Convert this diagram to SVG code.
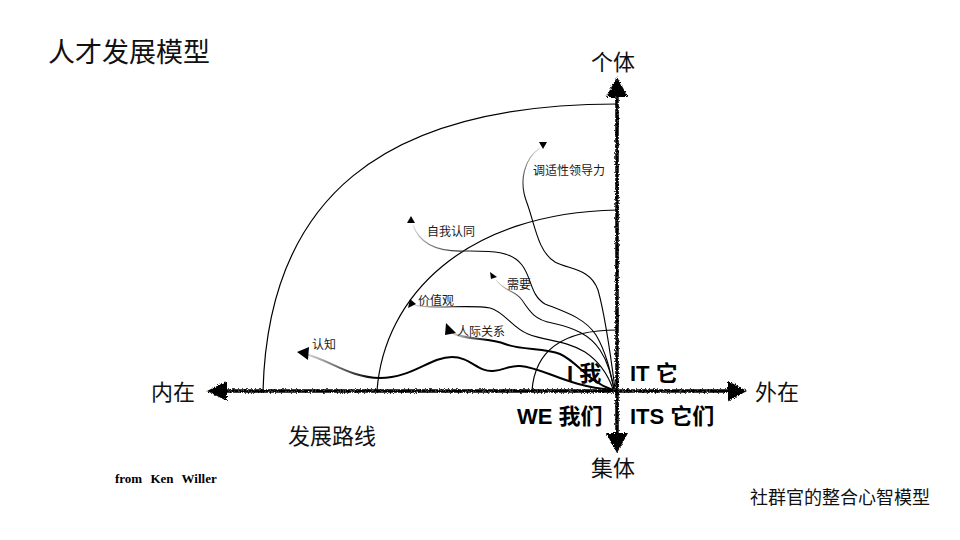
<svg xmlns="http://www.w3.org/2000/svg" width="960" height="540" viewBox="0 0 960 540">
<style>
.t{font-family:"Noto Sans CJK SC","Noto Sans",sans-serif;fill:#111}
.b{font-family:"Liberation Sans","Noto Sans CJK SC",sans-serif;font-weight:bold;fill:#000}
.s{font-family:"Noto Sans CJK SC",sans-serif;font-size:12px;fill:#1a1a1a}
.arc{fill:none;stroke:#000;stroke-width:1.2}
.w1{fill:none;stroke-width:1.1}
.w2{fill:none;stroke-width:2}
.ah{fill:#000}
</style>
<defs>
<linearGradient id="gH" x1="0" y1="0" x2="1" y2="0">
<stop offset="0" stop-color="#e0e0e0"/><stop offset="0.08" stop-color="#888"/><stop offset="0.22" stop-color="#000"/><stop offset="1" stop-color="#000"/>
</linearGradient>
<linearGradient id="gD" x1="0" y1="0" x2="1" y2="1">
<stop offset="0" stop-color="#e0e0e0"/><stop offset="0.1" stop-color="#888"/><stop offset="0.25" stop-color="#000"/><stop offset="1" stop-color="#000"/>
</linearGradient>
<linearGradient id="gV" x1="0" y1="0" x2="0" y2="1">
<stop offset="0" stop-color="#e0e0e0"/><stop offset="0.07" stop-color="#888"/><stop offset="0.2" stop-color="#000"/><stop offset="1" stop-color="#000"/>
</linearGradient>
<filter id="rough" x="-5%" y="-5%" width="110%" height="110%">
<feTurbulence type="fractalNoise" baseFrequency="1.3" numOctaves="2" result="n"/>
<feDisplacementMap in="SourceGraphic" in2="n" scale="4" xChannelSelector="R" yChannelSelector="G"/>
</filter>
</defs>
<rect width="960" height="540" fill="#fff"/>

<text class="t" x="48" y="62" font-size="27">人才发展模型</text>

<g id="arcs">
<path class="arc" d="M263,391 C268,200 380,104 617,104"/>
<path class="arc" d="M377,391 C384,296 465,213 617,210"/>
<path class="arc" d="M532,391 C535,345 570,330 617,330"/>
</g>

<g id="connectors">
<path class="w2" stroke="url(#gH)" d="M305,354 C330,360 350,378 380,378 C412,378 430,357 452,357 C470,357 478,372 493,371 C505,370 510,365 520,366 C545,368 565,386 613,390"/>
<path class="w2" stroke="url(#gH)" d="M452,333 C465,340 490,338 505,344 C520,350 545,348 560,354 C578,362 588,382 613,390"/>
<path class="w1" stroke="url(#gH)" d="M414,305 C430,310 470,304 490,308 C505,312 512,328 528,334 C545,341 565,340 585,352 C600,362 608,375 613,389"/>
<path class="w1" stroke="url(#gD)" d="M496,280 C505,292 515,290 522,300 C530,312 535,320 552,323 C575,328 590,335 600,350 C608,362 611,375 614,389"/>
<path class="w1" stroke="url(#gD)" d="M413,225 C420,245 440,252 465,251 C490,251 510,250 522,265 C532,278 530,295 545,304 C565,312 585,318 596,335 C606,352 610,370 614,389"/>
<path class="w1" stroke="url(#gV)" d="M540,148 C525,158 518,180 527,203 C535,225 538,252 555,262 C570,270 590,268 598,290 C605,315 610,350 615,389"/>
<polygon class="ah" points="297,352 309,347 308,360"/>
<polygon class="ah" points="446,323 456,333 445,335"/>
<polygon class="ah" points="408,308 410,299 416,304"/>
<polygon class="ah" points="490,272 497,277 491,279"/>
<polygon class="ah" points="411,216 415,223 407,223"/>
<polygon class="ah" points="539,142 547,142 543,149"/>
</g>

<g id="axes" filter="url(#rough)">
<line x1="222" y1="391" x2="733" y2="391" stroke="#000" stroke-width="3.5"/>
<line x1="617" y1="92" x2="617" y2="438" stroke="#000" stroke-width="3.5"/>
<polygon class="ah" points="207,391 227,381 227,401"/>
<polygon class="ah" points="747,391 728,381 728,401"/>
<polygon class="ah" points="617,77 606,97 628,97"/>
<polygon class="ah" points="617,453 606,433 628,433"/>
</g>

<g id="labels">
<text class="t" x="613" y="70" font-size="22" text-anchor="middle">个体</text>
<text class="t" x="613" y="476" font-size="22" text-anchor="middle">集体</text>
<text class="t" x="151" y="400" font-size="22">内在</text>
<text class="t" x="755" y="400" font-size="22">外在</text>
<text class="t" x="288" y="444" font-size="22">发展路线</text>
</g>

<g id="quadrants">
<text class="b" x="567" y="381" font-size="22">I 我</text>
<text class="b" x="630" y="381" font-size="22">IT 它</text>
<text class="b" x="517" y="424" font-size="22">WE 我们</text>
<text class="b" x="630" y="424" font-size="22">ITS 它们</text>
</g>

<g id="stages">
<text class="s" x="533" y="175">调适性领导力</text>
<text class="s" x="427" y="236">自我认同</text>
<text class="s" x="507" y="289">需要</text>
<text class="s" x="418" y="305">价值观</text>
<text class="s" x="457" y="336">人际关系</text>
<text class="s" x="312" y="349">认知</text>
</g>

<text x="115" y="483" font-family="'Liberation Serif',serif" font-weight="bold" font-size="13" word-spacing="5" fill="#000">from Ken Willer</text>
<text class="t" x="750" y="504" font-size="18">社群官的整合心智模型</text>
</svg>
